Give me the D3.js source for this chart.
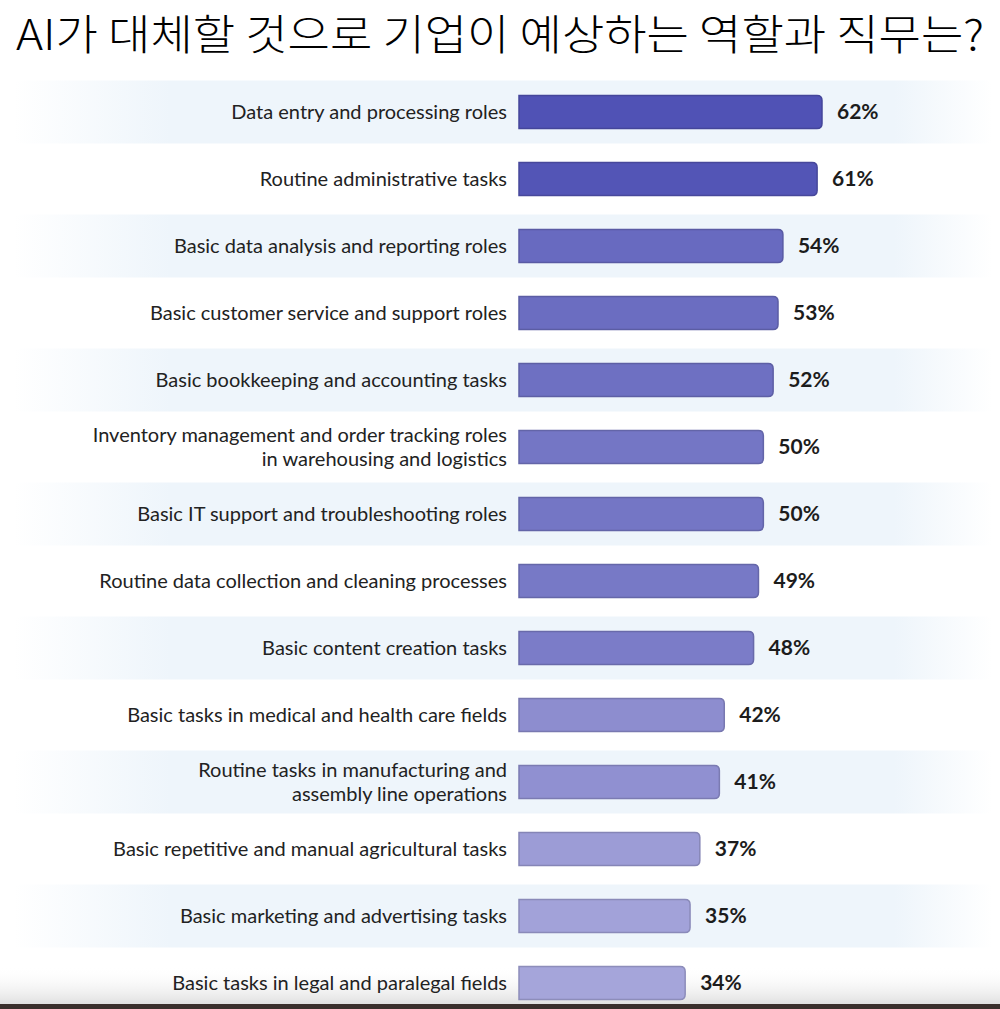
<!DOCTYPE html>
<html>
<head>
<meta charset="utf-8">
<script src="https://cdn.jsdelivr.net/npm/d3@7"></script>
<style>
  html, body { margin: 0; padding: 0; background: #fff; }
  svg { display: block; }
</style>
</head>
<body>
<svg id="chart" width="1000" height="1009"></svg>
<script>
const title = 'AI가 대체할 것으로 기업이 예상하는 역할과 직무는?';

const roles = [
  ['Data entry and processing roles'],
  ['Routine administrative tasks'],
  ['Basic data analysis and reporting roles'],
  ['Basic customer service and support roles'],
  ['Basic bookkeeping and accounting tasks'],
  ['Inventory management and order tracking roles', 'in warehousing and logistics'],
  ['Basic IT support and troubleshooting roles'],
  ['Routine data collection and cleaning processes'],
  ['Basic content creation tasks'],
  ['Basic tasks in medical and health care fields'],
  ['Routine tasks in manufacturing and', 'assembly line operations'],
  ['Basic repetitive and manual agricultural tasks'],
  ['Basic marketing and advertising tasks'],
  ['Basic tasks in legal and paralegal fields']
];

const shares = [62, 61, 54, 53, 52, 50, 50, 49, 48, 42, 41, 37, 35, 34];

const svg = d3.select('#chart');
const width = 1000;
const height = 1009;

const defs = svg.append('defs');
const band = defs.append('linearGradient').attr('id', 'rowBand').attr('x1', '0').attr('x2', '1');
band.append('stop').attr('offset', '0').attr('stop-color', '#eef5fb').attr('stop-opacity', 0);
band.append('stop').attr('offset', '0.16').attr('stop-color', '#eef5fb').attr('stop-opacity', 1);
band.append('stop').attr('offset', '0.9').attr('stop-color', '#eef5fb').attr('stop-opacity', 1);
band.append('stop').attr('offset', '1').attr('stop-color', '#eef5fb').attr('stop-opacity', 0);

const shade = defs.append('linearGradient').attr('id', 'bottomShade').attr('x1', '0').attr('x2', '0').attr('y1', '0').attr('y2', '1');
shade.append('stop').attr('offset', '0').attr('stop-color', '#ffffff').attr('stop-opacity', 0);
shade.append('stop').attr('offset', '1').attr('stop-color', '#e0e0e0').attr('stop-opacity', 1);

// bottom edge of the captured frame (behind the chart)
svg.append('rect').attr('x', 0).attr('y', 966).attr('width', width).attr('height', 38).attr('fill', 'url(#bottomShade)');
svg.append('rect').attr('x', 0).attr('y', 1004).attr('width', width).attr('height', height - 1004).attr('fill', '#3a2f2c');

const idx = d3.range(shares.length);
const y = d3.scaleBand().domain(idx).range([78.5, 1016.5]).padding(0);
const x = d3.scaleLinear().domain([0, 62]).range([519, 822]);
const color = d3.scaleLinear().domain([34, 62]).range(['#a5a5da', '#5052b5']);

// alternating row bands
svg.append('g')
  .selectAll('rect')
  .data(idx.filter(i => i % 2 === 0))
  .join('rect')
  .attr('x', 14)
  .attr('width', 978)
  .attr('y', i => y(i) + 2)
  .attr('height', y.bandwidth() - 4)
  .attr('fill', 'url(#rowBand)');

// bars: square left edge, rounded right end
const barH = 33;
const r = 5;
function barPath(i) {
  const x0 = x(0), x1 = x(shares[i]);
  const top = y(i) + (y.bandwidth() - barH) / 2;
  const bot = top + barH;
  return `M${x0},${top}H${x1 - r}Q${x1},${top} ${x1},${top + r}V${bot - r}Q${x1},${bot} ${x1 - r},${bot}H${x0}Z`;
}

svg.append('g')
  .selectAll('path')
  .data(idx)
  .join('path')
  .attr('d', barPath)
  .attr('fill', i => color(shares[i]))
  .attr('stroke', i => d3.color(color(shares[i])).darker(0.45))
  .attr('stroke-width', 1.5);

// category labels
const labels = svg.append('g')
  .attr('font-family', 'Lato, "Open Sans", sans-serif')
  .attr('font-size', 20)
  .attr('fill', '#222')
  .attr('text-anchor', 'end');

labels.selectAll('text')
  .data(idx)
  .join('text')
  .attr('x', 507)
  .attr('y', i => y(i) + y.bandwidth() / 2 - (roles[i].length - 1) * 12)
  .each(function (i) {
    d3.select(this).selectAll('tspan')
      .data(roles[i])
      .join('tspan')
      .attr('x', 507)
      .attr('dy', (d, k) => (k === 0 ? '0.35em' : 24))
      .text(d => d);
  });

// value labels
svg.append('g')
  .attr('font-family', 'Lato, "Open Sans", sans-serif')
  .attr('font-size', 21)
  .attr('font-weight', 'bold')
  .attr('fill', '#1c1c1c')
  .selectAll('text')
  .data(idx)
  .join('text')
  .attr('x', i => x(shares[i]) + 15)
  .attr('y', i => y(i) + y.bandwidth() / 2)
  .attr('dy', '0.35em')
  .text(i => shares[i] + '%');

// title
svg.append('text')
  .attr('x', 16)
  .attr('y', 50)
  .attr('font-family', '"Noto Sans CJK KR", sans-serif')
  .attr('font-size', 42)
  .attr('font-weight', 300)
  .attr('fill', '#000')
  .attr('textLength', 968)
  .attr('lengthAdjust', 'spacingAndGlyphs')
  .text(title);
</script>
</body>
</html>
